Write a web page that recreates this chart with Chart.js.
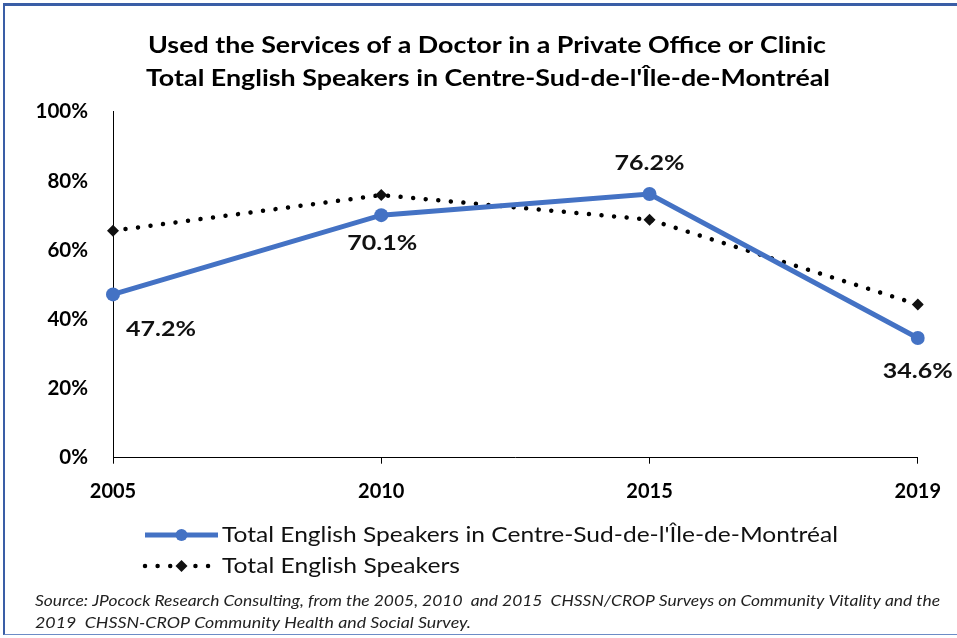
<!DOCTYPE html>
<html>
<head>
<meta charset="utf-8">
<script src="https://cdn.jsdelivr.net/npm/chart.js@4/dist/chart.umd.min.js"></script>
<style>
  html,body{margin:0;padding:0;background:#fff;overflow:hidden;}
  #wrap{position:relative;width:957px;height:638px;}
  #frame{position:absolute;left:3px;top:3px;width:970px;height:632px;border-left:2px solid #3a5ea6;border-top:3px solid #3a5ea6;border-bottom:1px solid #6d8cc6;box-sizing:border-box;pointer-events:none;}
  canvas{position:absolute;left:0;top:0;}
</style>
</head>
<body>
<div id="wrap">
<canvas id="c" width="957" height="638"></canvas>
<div id="frame"></div>
</div>
<script>
// ---- data ----
const years = ['2005', '2010', '2015', '2019'];
const centreSud = [47.2, 70.1, 76.2, 34.6];
const totalEnglish = [65.6, 75.9, 68.8, 44.3];
const yTicks = [0, 20, 40, 60, 80, 100];
const seriesNames = ["Total English Speakers in Centre-Sud-de-l'Île-de-Montréal", 'Total English Speakers'];
const titleLines = ['Used the Services of a Doctor in a Private Office or Clinic', "Total English Speakers in Centre-Sud-de-l'Île-de-Montréal"];
const sourceLines = ['Source: JPocock Research Consulting, from the 2005, 2010  and 2015  CHSSN/CROP Surveys on Community Vitality and the',
                     '2019  CHSSN-CROP Community Health and Social Survey.'];

const BLUE = '#4472C4';
const FONT = 'Lato, "Liberation Sans", sans-serif';

function fitText(ctx, text, x, y, font, targetW, align) {
  ctx.save();
  ctx.font = font;
  const w = ctx.measureText(text).width;
  const s = targetW ? targetW / w : 1;
  ctx.textBaseline = 'middle';
  ctx.textAlign = 'left';
  let x0 = x;
  if (align === 'center') x0 = x - (w * s) / 2;
  ctx.translate(x0, y);
  ctx.scale(s, 1);
  ctx.fillText(text, 0, 0);
  ctx.restore();
}

const overlay = {
  id: 'overlay',
  afterDatasetsDraw(chart, args, opts) {
    const ctx = chart.ctx;
    const meta = chart.getDatasetMeta(0);
    meta.data.forEach((pt, i) => {
      const off = opts.labelOffsets[i];
      ctx.fillStyle = '#111';
      fitText(ctx, centreSud[i].toFixed(1) + '%', pt.x + off[0], pt.y + off[1], 'bold 21px ' + FONT, 70, 'center');
    });
  },
  afterDraw(chart, args, opts) {
    const ctx = chart.ctx;
    ctx.fillStyle = '#000';
    // title
    fitText(ctx, titleLines[0], 487, 45, 'bold 23.5px ' + FONT, 678, 'center');
    fitText(ctx, titleLines[1], 488, 78, 'bold 23.5px ' + FONT, 684, 'center');
    // legend
    const lx0 = 145, lx1 = 218, lxm = (lx0 + lx1) / 2;
    const ys = [535, 566];
    chart.data.datasets.forEach((ds, i) => {
      const y = ys[i];
      ctx.save();
      ctx.strokeStyle = ds.borderColor;
      ctx.lineWidth = ds.borderWidth;
      ctx.lineCap = ds.borderCapStyle || 'butt';
      ctx.setLineDash(ds.borderDash || []);
      ctx.beginPath();
      ctx.moveTo(lx0, y);
      ctx.lineTo(lx1, y);
      ctx.stroke();
      ctx.setLineDash([]);
      ctx.fillStyle = ds.pointBackgroundColor;
      ctx.beginPath();
      if (ds.pointStyle === 'rectRot') {
        const r = ds.pointRadius;
        ctx.moveTo(lxm, y - r); ctx.lineTo(lxm + r, y); ctx.lineTo(lxm, y + r); ctx.lineTo(lxm - r, y);
        ctx.closePath();
      } else {
        ctx.arc(lxm, y, 6, 0, Math.PI * 2);
      }
      ctx.fill();
      ctx.restore();
      ctx.fillStyle = '#111';
      fitText(ctx, seriesNames[i], 222, y, '22px ' + FONT, opts.legendWidths[i], 'left');
    });
    // source
    ctx.fillStyle = '#222';
    fitText(ctx, sourceLines[0], 35, 601, 'italic 16px ' + FONT, 905, 'left');
    fitText(ctx, sourceLines[1], 35, 623, 'italic 16px ' + FONT, 436, 'left');
  }
};

new Chart(document.getElementById('c'), {
  type: 'line',
  data: {
    labels: years,
    datasets: [
      {
        label: seriesNames[0],
        data: centreSud,
        borderColor: BLUE,
        backgroundColor: BLUE,
        pointBackgroundColor: BLUE,
        pointBorderColor: BLUE,
        borderWidth: 5,
        pointRadius: 7,
        pointBorderWidth: 0,
        pointStyle: 'circle',
        tension: 0,
        order: 0
      },
      {
        label: seriesNames[1],
        data: totalEnglish,
        borderColor: '#000',
        backgroundColor: '#000',
        pointBackgroundColor: '#111',
        pointBorderColor: '#111',
        borderWidth: 4.5,
        borderDash: [0.01, 12.6],
        borderCapStyle: 'round',
        pointStyle: 'rectRot',
        pointRadius: 6,
        pointBorderWidth: 0,
        tension: 0,
        order: 1
      }
    ]
  },
  options: {
    responsive: false,
    animation: false,
    devicePixelRatio: 1,
    layout: { padding: { left: 20, right: 38, top: 111.7, bottom: 130.3 } },
    plugins: {
      legend: { display: false },
      title: { display: false },
      tooltip: { enabled: false },
      overlay: {
        labelOffsets: [[48, 35], [1, 28], [0, -31], [0, 33]],
        legendWidths: [616, 238]
      }
    },
    scales: {
      x: {
        type: 'category',
        offset: false,
        grid: { display: true, drawOnChartArea: false, drawTicks: true, tickLength: 6, color: '#000', lineWidth: 1 },
        border: { display: true, color: '#000', width: 1 },
        ticks: { color: '#000', font: { family: FONT, size: 20, weight: 'bold' }, padding: 16, maxRotation: 0 },
        afterFit(s) { s.height = 50; }
      },
      y: {
        min: 0,
        max: 100,
        afterBuildTicks(s) { s.ticks = yTicks.map(v => ({ value: v })); },
        grid: { display: false, drawTicks: false },
        border: { display: true, color: '#000', width: 1 },
        ticks: {
          color: '#000',
          font: { family: FONT, size: 20.5, weight: 'bold' },
          padding: 25,
          callback: v => v + '%'
        },
        afterFit(s) { s.width = 93; }
      }
    }
  },
  plugins: [overlay]
});
</script>
</body>
</html>
